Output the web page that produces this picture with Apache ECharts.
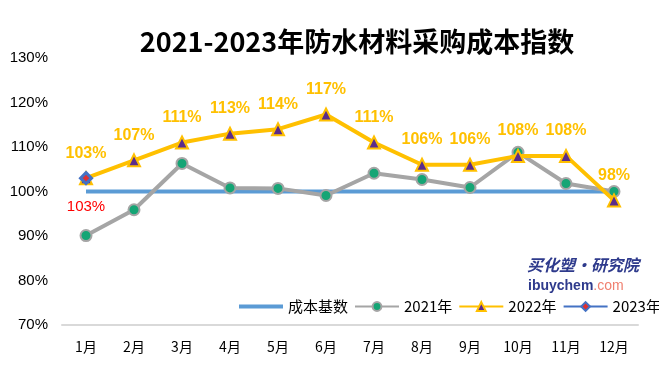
<!DOCTYPE html>
<html><head><meta charset="utf-8">
<script src="https://cdn.jsdelivr.net/npm/echarts@6/dist/echarts.min.js"></script>
<style>html,body{margin:0;padding:0;background:#fff}#c{width:659px;height:366px}</style>
</head><body><div id="c"></div>
<script>
var months = ['1月','2月','3月','4月','5月','6月','7月','8月','9月','10月','11月','12月'];
var base = [100,100,100,100,100,100,100,100,100,100,100,100];
var y2021 = [90.1,95.9,106.3,100.8,100.7,99.1,104.1,102.7,100.9,108.8,101.8,100];
var y2022 = [103,107,111,113,114,117.3,111,106,106,108,108,98];
var y2023 = [103,'-','-','-','-','-','-','-','-','-','-','-'];
var yTicks = [70,80,90,100,110,120,130];

var chart = echarts.init(document.getElementById('c'));
var cjk = '"Noto Sans CJK SC", sans-serif';
chart.setOption({
  animation:false,
  title:{text:'2021-2023年防水材料采购成本指数',left:352,textAlign:'center',top:23,
    textStyle:{fontSize:27,fontWeight:'bold',color:'#000',fontFamily:'"Noto Sans CJK SC", Calibri, sans-serif'}},
  legend:{left:234,top:294,width:1000,itemWidth:44,itemHeight:11,itemGap:6,
    textStyle:{fontSize:15,color:'#000',fontFamily:cjk},
    data:[{name:'成本基数',icon:'path://M0,0L44,0L44,4L0,4Z',itemStyle:{color:'#5b9bd5'}},'2021年','2022年','2023年']},
  grid:{left:62,right:21,top:58,bottom:41},
  xAxis:{type:'category',data:months,boundaryGap:true,
    axisLine:{lineStyle:{color:'#d9d9d9',width:2}},axisTick:{show:false},
    axisLabel:{fontSize:14,color:'#000',margin:15,fontFamily:cjk}},
  yAxis:{type:'value',min:yTicks[0],max:yTicks[yTicks.length-1],interval:10,
    axisLine:{show:false},axisTick:{show:false},splitLine:{show:false},
    axisLabel:{fontSize:15,color:'#000',margin:14,formatter:function(v){return v+'%';},fontFamily:'Liberation Sans, sans-serif'}},
  graphic:[{type:'text',left:527,top:257,style:{text:'买化塑·研究院',font:'italic bold 16px "Noto Sans CJK SC"',fill:'#2e3a8c'}},
    {type:'text',left:528,top:279,style:{text:'{a|ibuychem}{b|.com}',rich:{a:{fill:'#2e3a8c',fontSize:14,fontWeight:'bold',fontFamily:'Liberation Sans'},b:{fill:'#f08070',fontSize:14,fontFamily:'Liberation Sans'}}}}],
  series:[
    {name:'成本基数',type:'line',data:base,symbol:'none',lineStyle:{color:'#5b9bd5',width:4},itemStyle:{color:'#5b9bd5'},z:2},
    {name:'2021年',type:'line',data:y2021,symbol:'circle',symbolSize:11,
      lineStyle:{color:'#a5a5a5',width:4},itemStyle:{color:'#15a575',borderColor:'#a5a5a5',borderWidth:2},z:3},
    {name:'2022年',type:'line',data:y2022,symbol:'triangle',symbolSize:12,
      lineStyle:{color:'#ffc000',width:4},itemStyle:{color:'#5b2c8c',borderColor:'#ffc000',borderWidth:2},z:4,
      label:{show:true,position:'top',distance:10,fontSize:16,fontWeight:'bold',color:'#ffc000',fontFamily:'Liberation Sans, sans-serif',
        formatter:function(p){return Math.round(p.value)+'%';}}},
    {name:'2023年',type:'line',data:y2023,symbol:'diamond',symbolSize:11,
      lineStyle:{color:'#4472c4',width:4},itemStyle:{color:'#e03030',borderColor:'#4472c4',borderWidth:3},z:5,
      label:{show:true,position:'bottom',distance:14,fontSize:15,color:'#ff0000',fontFamily:'Liberation Sans, sans-serif',
        formatter:function(p){return Math.round(p.value)+'%';}}}
  ]
});
</script></body></html>
